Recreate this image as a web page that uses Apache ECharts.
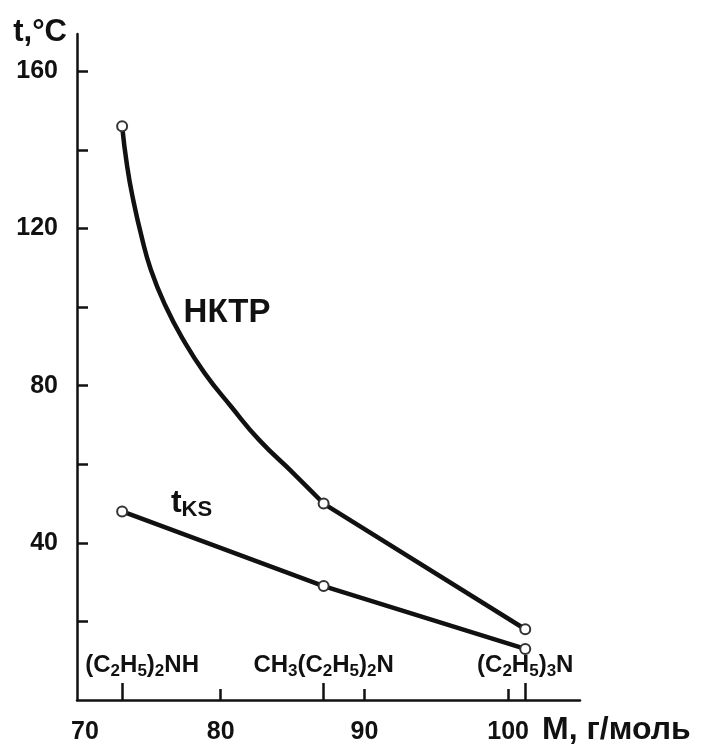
<!DOCTYPE html>
<html>
<head>
<meta charset="utf-8">
<script src="https://cdn.jsdelivr.net/npm/echarts@6/dist/echarts.min.js"></script>
<style>
  html, body { margin: 0; padding: 0; background: #fff; }
  #chart { width: 714px; height: 746px; }
</style>
</head>
<body>
<div id="chart"></div>
<script>
// Amines: molar mass (g/mol) and formula
const masses = [73.14, 87.16, 101.19];
const formulas = ['(C2H5)2NH', 'CH3(C2H5)2N', '(C2H5)3N'];

// Lower critical solution temperature (НКТР) and t_KS at each amine, °C
const nktrValues = [146, 50, 18];
const tksValues = [48, 29, 13];

// Points traced along the curved НКТР branch, (C2H5)2NH -> CH3(C2H5)2N
const nktrCurveM = [73.14, 73.49, 73.91, 74.49, 75.14, 76.12, 77.39, 78.88, 80.72, 82.67, 85.06, 87.16];
const nktrCurveT = [146, 135.8, 127.3, 118.0, 109.5, 100.6, 91.7, 83.2, 74.7, 66.2, 57.7, 50];

// Axis ticks and labels
const yTicks = [20, 40, 60, 80, 100, 120, 140, 160];
const yLabels = [40, 80, 120, 160];
const xTicks = [80, 90, 100];
const xLabels = [70, 80, 90, 100];

const FONT = 'Liberation Sans, Arial, sans-serif';
const INK = '#111';

function formulaRich(f) {
  return f.split(/(\d)/).filter(Boolean)
    .map(p => /\d/.test(p) ? '{s|' + p + '}' : '{n|' + p + '}').join('');
}

const zip = (a, b) => a.map((v, i) => [v, b[i]]);

const markerStyle = { color: '#fff', borderColor: '#333', borderWidth: 2, opacity: 1 };
const curveLine = { color: INK, width: 4.5 };

const chart = echarts.init(document.getElementById('chart'), null, { renderer: 'canvas' });

chart.setOption({
  backgroundColor: '#fff',
  animation: false,
  grid: { left: 77, right: 134, top: 34, bottom: 46, containLabel: false, outerBoundsMode: 'none' },
  xAxis: [
    {
      type: 'value', min: 70, max: 105, position: 'bottom',
      axisLine: { show: true, lineStyle: { color: INK, width: 2.5 } },
      axisTick: { show: true, inside: true, length: 11, customValues: xTicks, lineStyle: { color: INK, width: 2.5 } },
      axisLabel: {
        show: true, customValues: xLabels, margin: 20,
        color: INK, fontFamily: FONT, fontWeight: 'bold', fontSize: 25,
        formatter: v => v === 70 ? '{gap|}{v|70}' : '{v|' + v + '}',
        rich: { v: { fontFamily: FONT, fontWeight: 'bold', fontSize: 25, color: INK }, gap: { width: 16 } }
      },
      splitLine: { show: false },
      name: 'M, г/моль', nameLocation: 'end', nameGap: -38,
      nameTextStyle: { color: INK, fontFamily: FONT, fontWeight: 'bold', fontSize: 32, align: 'left', verticalAlign: 'top', padding: [14, 0, 0, 0] }
    },
    {
      type: 'value', min: 70, max: 105, position: 'bottom', offset: 0,
      axisLine: { show: false },
      axisTick: { show: true, inside: true, length: 17, customValues: masses, lineStyle: { color: INK, width: 2.5 } },
      axisLabel: {
        show: true, inside: true, customValues: masses, margin: 20,
        formatter: v => {
          const i = masses.indexOf(v);
          return (i === 0 ? '{gap|}' : '') + formulaRich(formulas[i]);
        },
        rich: {
          n: { fontFamily: FONT, fontWeight: 'bold', fontSize: 24, color: INK },
          s: { fontFamily: FONT, fontWeight: 'bold', fontSize: 17, color: INK, padding: [12, 0, 0, 0] },
          gap: { width: 40 }
        }
      },
      splitLine: { show: false }
    }
  ],
  yAxis: {
    type: 'value', min: 0, max: 169.5,
    axisLine: { show: true, lineStyle: { color: INK, width: 2.5 } },
    axisTick: { show: true, inside: true, length: 11, customValues: yTicks, lineStyle: { color: INK, width: 2.5 } },
    axisLabel: { show: true, customValues: yLabels, margin: 19, color: INK, fontFamily: FONT, fontWeight: 'bold', fontSize: 25 },
    splitLine: { show: false },
    name: 't,°C', nameLocation: 'end', nameGap: -14,
    nameTextStyle: { color: INK, fontFamily: FONT, fontWeight: 'bold', fontSize: 31, align: 'right', verticalAlign: 'bottom', padding: [0, 10, 0, 0] }
  },
  series: [
    {
      name: 'НКТР curve', type: 'line', xAxisIndex: 0,
      data: zip(nktrCurveM, nktrCurveT),
      smooth: 0.5, showSymbol: false, symbol: 'none',
      lineStyle: curveLine, z: 2,
      markPoint: {
        symbol: 'circle', symbolSize: 0,
        data: [{ coord: [80.44, 98.4], value: 'НКТР' }],
        label: { show: true, position: 'inside', formatter: 'НКТР', color: INK, fontFamily: FONT, fontWeight: 'bold', fontSize: 33 }
      }
    },
    {
      // straight НКТР segment, CH3(C2H5)2N -> (C2H5)3N
      name: 'НКТР tail', type: 'line', xAxisIndex: 0,
      data: zip(masses.slice(1), nktrValues.slice(1)),
      showSymbol: false, symbol: 'none',
      lineStyle: curveLine, z: 2
    },
    {
      name: 'НКТР', type: 'scatter', xAxisIndex: 0,
      data: zip(masses, nktrValues),
      symbol: 'circle', symbolSize: 10, itemStyle: markerStyle, z: 5
    },
    {
      name: 'tKS', type: 'line', xAxisIndex: 0,
      data: zip(masses, tksValues),
      symbol: 'circle', symbolSize: 10, showSymbol: true, itemStyle: markerStyle,
      lineStyle: curveLine, z: 3,
      markPoint: {
        symbol: 'circle', symbolSize: 0,
        data: [{ coord: [77.97, 50.2] }],
        label: {
          show: true, position: 'inside', formatter: '{t|t}{s|KS}',
          rich: {
            t: { fontFamily: FONT, fontWeight: 'bold', fontSize: 32, color: INK },
            s: { fontFamily: FONT, fontWeight: 'bold', fontSize: 22, color: INK, padding: [14, 0, 0, 0] }
          }
        }
      }
    }
  ]
});
</script>
</body>
</html>
